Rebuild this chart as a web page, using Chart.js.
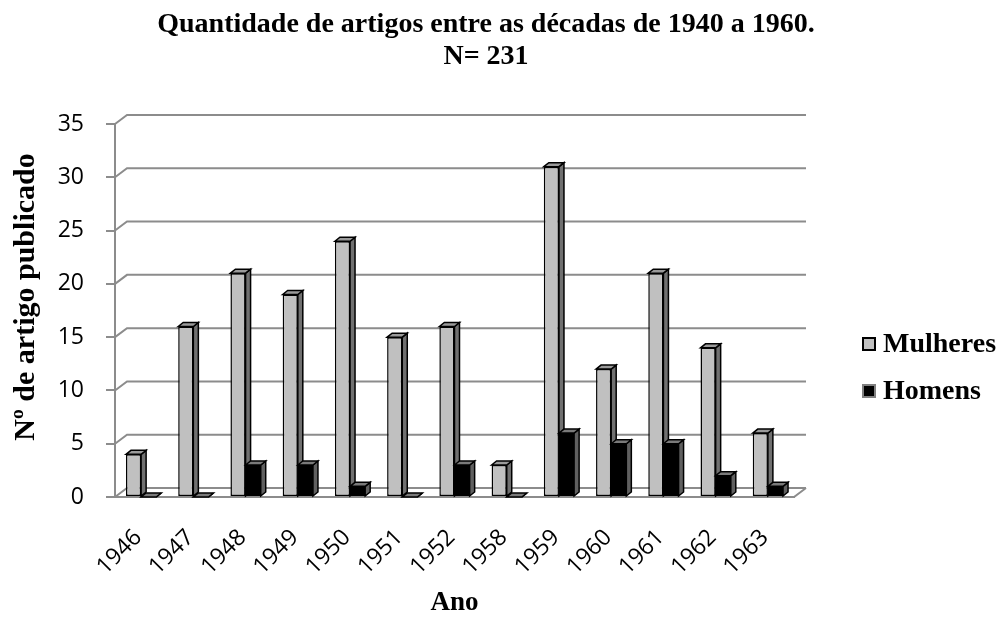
<!DOCTYPE html>
<html>
<head>
<meta charset="utf-8">
<script src="https://cdn.jsdelivr.net/npm/chart.js@4.4.0/dist/chart.umd.min.js"></script>
<style>
    html, body { margin: 0; padding: 0; background: #fff; }
    #wrap { width: 1003px; height: 617px; }
</style>
</head>
<body>
<div id="wrap"><canvas id="artigos-chart"></canvas></div>
<script>
// Artigos por ano, separados por sexo do autor
const years = ['1946', '1947', '1948', '1949', '1950', '1951', '1952', '1958', '1959', '1960', '1961', '1962', '1963'];
const mulheres = [4, 16, 21, 19, 24, 15, 16, 3, 31, 12, 21, 14, 6];
const homens = [0, 0, 3, 3, 1, 0, 3, 0, 6, 5, 5, 2, 1];
const yTicks = [0, 5, 10, 15, 20, 25, 30, 35];
const seriesNames = ['Mulheres', 'Homens'];
const titleLines = ['Quantidade de artigos entre as décadas de 1940 a 1960.', 'N= 231'];
const yTitle = 'Nº de artigo publicado';

const colors = {
    grid: '#8c8c8c',
    light: '#c0c0c0',
    lightSide: '#707070',
    lightTop: '#9a9a9a',
    dark: '#000000',
    darkSide: '#606060',
    darkTop: '#7a7a7a',
    text: '#000000'
};

const serif = '"Liberation Serif", "Times New Roman", serif';
const sans = '"Open Sans", "Noto Sans", sans-serif';

// bar extrusion and back wall offset (fake 3D)
const barDepth = { dx: 5, dy: 4 };
const wallDepth = { dx: 12, dy: 9 };

// back wall gridlines, left wall diagonals and floor
const backWall = {
    id: 'backWall',
    beforeDatasetsDraw(chart) {
        const { ctx, chartArea } = chart;
        const y = chart.scales.y;
        const { left, right, bottom } = chartArea;
        ctx.save();
        ctx.strokeStyle = colors.grid;
        ctx.lineWidth = 2;
        yTicks.forEach(v => {
            const py = y.getPixelForValue(v);
            ctx.beginPath();
            ctx.moveTo(left, py);
            ctx.lineTo(left + wallDepth.dx, py - wallDepth.dy);
            ctx.lineTo(right + wallDepth.dx, py - wallDepth.dy);
            ctx.stroke();
        });
        // floor edges
        ctx.beginPath();
        ctx.moveTo(left, bottom);
        ctx.lineTo(right, bottom);
        ctx.lineTo(right + wallDepth.dx, bottom - wallDepth.dy);
        ctx.stroke();
        ctx.restore();
    }
};

function drawFaces(ctx, el, side, top) {
    const { x, y, base, width } = el.getProps(['x', 'y', 'base', 'width'], true);
    const l = x - width / 2;
    const r = x + width / 2;
    const { dx, dy } = barDepth;
    ctx.lineWidth = 1.5;
    ctx.strokeStyle = '#000';
    ctx.fillStyle = side;
    ctx.beginPath();
    ctx.moveTo(r, base);
    ctx.lineTo(r, y);
    ctx.lineTo(r + dx, y - dy);
    ctx.lineTo(r + dx, base - dy);
    ctx.closePath();
    ctx.fill();
    ctx.stroke();
    ctx.fillStyle = top;
    ctx.beginPath();
    ctx.moveTo(l, y);
    ctx.lineTo(l + dx, y - dy);
    ctx.lineTo(r + dx, y - dy);
    ctx.lineTo(r, y);
    ctx.closePath();
    ctx.fill();
    ctx.stroke();
}

function drawFront(ctx, el, fill) {
    const { x, y, base, width } = el.getProps(['x', 'y', 'base', 'width'], true);
    if (base - y < 0.5) return;
    ctx.fillStyle = fill;
    ctx.fillRect(x - width / 2, y, width, base - y);
    ctx.lineWidth = 1.5;
    ctx.strokeStyle = '#000';
    ctx.strokeRect(x - width / 2 + 0.75, y + 0.75, width - 1.5, base - y - 1.5);
}

const bars3d = {
    id: 'bars3d',
    afterDatasetsDraw(chart) {
        const { ctx } = chart;
        const m = chart.getDatasetMeta(0).data;
        const h = chart.getDatasetMeta(1).data;
        ctx.save();
        for (let i = 0; i < m.length; i++) {
            drawFaces(ctx, m[i], colors.lightSide, colors.lightTop);
            drawFront(ctx, h[i], colors.dark);
            drawFaces(ctx, h[i], colors.darkSide, colors.darkTop);
        }
        ctx.restore();
    }
};

// main title, y title and the legend on the right, drawn by hand
const textBits = {
    id: 'textBits',
    afterDraw(chart) {
        const { ctx } = chart;
        ctx.save();
        ctx.fillStyle = colors.text;
        ctx.textBaseline = 'middle';
        ctx.textAlign = 'center';
        ctx.font = 'bold 28px ' + serif;
        ctx.fillText(titleLines[0], 486, 25);
        ctx.fillText(titleLines[1], 486, 57);

        ctx.save();
        ctx.translate(26, 297);
        ctx.rotate(-Math.PI / 2);
        ctx.font = 'bold 30px ' + serif;
        ctx.fillText(yTitle, 0, 0);
        ctx.restore();

        const items = [
            { label: seriesNames[0], fill: colors.light, border: '#000', y: 344 },
            { label: seriesNames[1], fill: colors.dark, border: '#808080', y: 391 }
        ];
        items.forEach(it => {
            ctx.fillStyle = it.fill;
            ctx.fillRect(862, it.y - 7, 14, 14);
            ctx.lineWidth = 2;
            ctx.strokeStyle = it.border;
            ctx.strokeRect(863, it.y - 6, 12, 12);
            ctx.fillStyle = colors.text;
            ctx.font = 'bold 28px ' + serif;
            ctx.textAlign = 'left';
            ctx.fillText(it.label, 883, it.y + 1);
        });
        ctx.restore();
    }
};

new Chart(document.getElementById('artigos-chart'), {
    type: 'bar',
    data: {
        labels: years,
        datasets: [
            {
                label: seriesNames[0],
                data: mulheres,
                backgroundColor: colors.light,
                borderColor: '#000',
                borderWidth: 1.5,
                borderSkipped: false
            },
            {
                label: seriesNames[1],
                data: homens,
                backgroundColor: colors.dark,
                borderColor: '#000',
                borderWidth: 1.5,
                borderSkipped: false
            }
        ]
    },
    options: {
        responsive: true,
        maintainAspectRatio: false,
        animation: false,
        datasets: {
            bar: {
                barPercentage: 1,
                categoryPercentage: 0.58
            }
        },
        layout: {
            padding: { left: 0, right: 209, top: 124, bottom: 0 }
        },
        plugins: {
            legend: { display: false },
            tooltip: { enabled: false },
            title: { display: false }
        },
        scales: {
            x: {
                grid: { display: false, drawTicks: false },
                border: { display: true, color: colors.grid, width: 2 },
                ticks: {
                    autoSkip: false,
                    minRotation: 45,
                    maxRotation: 45,
                    padding: 27,
                    labelOffset: -3,
                    color: colors.text,
                    font: { family: sans, size: 23 }
                },
                title: {
                    display: true,
                    text: 'Ano',
                    color: colors.text,
                    font: { family: serif, size: 27, weight: 'bold', lineHeight: 1.0 },
                    padding: { top: 0, bottom: 0 }
                },
                afterFit: (scale) => { scale.height = 120; }
            },
            y: {
                min: 0,
                max: 35,
                afterBuildTicks: (scale) => { scale.ticks = yTicks.map(v => ({ value: v })); },
                grid: {
                    drawOnChartArea: false,
                    color: colors.grid,
                    lineWidth: 2,
                    tickLength: 9
                },
                border: { display: true, color: colors.grid, width: 2 },
                ticks: {
                    padding: 22,
                    color: colors.text,
                    font: { family: sans, size: 23 }
                },
                afterFit: (scale) => { scale.width = 115; }
            }
        }
    },
    plugins: [backWall, bars3d, textBits]
});
</script>
</body>
</html>
